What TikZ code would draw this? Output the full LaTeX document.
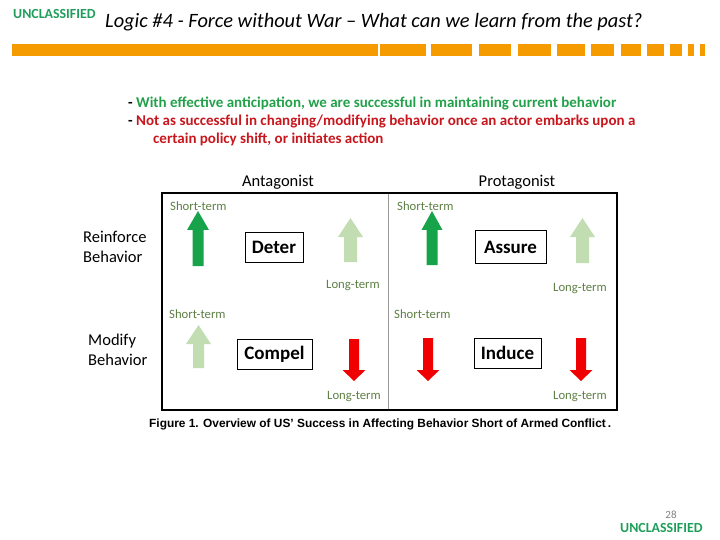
\documentclass[tikz,border=0pt]{standalone}
\usepackage{fontspec}
\setmainfont{Carlito}
\newfontfamily\arialf{Liberation Sans}
\definecolor{uncl}{HTML}{1E9E5A}
\definecolor{bargold}{HTML}{F59B00}
\definecolor{bulgreen}{HTML}{22A04A}
\definecolor{bulred}{HTML}{C8161D}
\definecolor{termc}{HTML}{5E7F45}
\definecolor{darkg}{HTML}{17A34A}
\definecolor{lightg}{HTML}{C3DDB3}
\definecolor{arrred}{HTML}{F00000}
\newcommand\myup[7]{\fill[#1] (#2,#3) -- ({#2+#6},#4) -- ({#2+#5},#4) -- ({#2+#5},#7) -- ({#2-#5},#7) -- ({#2-#5},#4) -- ({#2-#6},#4) -- cycle;}
\newcommand\fs[1]{\fontsize{#1}{#1}\selectfont}
\begin{document}
\begin{tikzpicture}[x=1pt,y=-1pt,
  txt/.style={inner sep=0pt, anchor=base west},
  term/.style={inner sep=0pt, anchor=west, text=termc, font=\fs{12.7}},
  word/.style={draw=black, line width=1pt, inner sep=0pt, minimum height=30pt, font=\fs{19}\bfseries},
  hdr/.style={inner sep=0pt, anchor=base, font=\fs{16.5}},
  side/.style={inner sep=0pt, anchor=base west, font=\fs{16.5}}]
\useasboundingbox (0,0) rectangle (720,540);
% header
\node[txt, text=uncl, font=\fs{13.9}\bfseries] (unc1) at (13,19) {UNCLASSIFIED};
\node[txt, font=\fs{20.4}\itshape] (title) at (105,28) {Logic \#4 - Force without War – What can we learn from the past?};
\foreach \a/\b in {12/378,380/426,431/472,479/511,518/551,557/585,591/614,621/641,647/664,670/682,688/694,700/705}
  \fill[bargold] (\a,44) rectangle (\b,56);
% bullets
\node[txt, font=\fs{15}\bfseries] (b1) at (128,108) {- \textcolor{bulgreen}{With effective anticipation, we are successful in maintaining current behavior}};
\node[txt, font=\fs{15}\bfseries] (b2) at (128,126) {- \textcolor{bulred}{Not as successful in changing/modifying behavior once an actor embarks upon a}};
\node[txt, font=\fs{15}\bfseries, text=bulred] (b3) at (153,144) {certain policy shift, or initiates action};
% figure
\node[hdr] (ant) at (278,187) {Antagonist};
\node[hdr] (pro) at (517,187) {Protagonist};
\node[side] (r1) at (83,242) {Reinforce};
\node[side] (r2) at (83,262) {Behavior};
\node[side] (m1) at (88,345) {Modify};
\node[side] (m2) at (88,365) {Behavior};
\draw[gray!80, line width=0.8pt] (388,193) -- (388,410);
\draw[black, line width=2.5pt] (162,193) rectangle (617,410);
\node[term] (st1) at (170,206) {Short-term};
\node[term] (st2) at (397,206) {Short-term};
\node[term] (lt1) at (326,286) {Long-term};
\node[term] (lt2) at (553,289) {Long-term};
\node[term] (st3) at (169,314) {Short-term};
\node[term] (st4) at (394,314) {Short-term};
\node[term] (lt3) at (327,397) {Long-term};
\node[term] (lt4) at (553,397) {Long-term};
\node[word, minimum width=58pt] (deter) at (274,247) {Deter};
\node[word, minimum width=71pt, minimum height=32pt] (assure) at (510.5,247) {Assure};
\node[word, minimum width=75pt] (compel) at (274.5,354) {Compel};
\node[word, minimum width=67pt] (induce) at (507.5,353) {Induce};
% arrows
\myup{darkg}{198}{211}{230}{5.5}{11}{266}
\myup{lightg}{350.5}{218}{237}{6.5}{12.5}{262}
\myup{darkg}{432}{211}{230}{5.5}{10.5}{265}
\myup{lightg}{582.5}{218}{237}{6.5}{12.5}{263}
\myup{lightg}{198.5}{325}{344}{5.5}{12.5}{368}
\myup{arrred}{354}{381}{370}{5}{11.5}{339}
\myup{arrred}{428}{381}{370}{5}{11.5}{338}
\myup{arrred}{581}{381}{370}{5}{11.5}{338}
% caption
\node[txt, font=\arialf\fs{11.9}\bfseries] (cap) at (149,427) {Figure 1. Overview of US’ Success in Affecting Behavior Short of Armed Conflict\,.};
% footer
\node[inner sep=0pt, anchor=base, text=gray, font=\fs{11}] (pg) at (671,518) {28};
\node[txt, text=uncl, font=\fs{13.9}\bfseries] (unc2) at (620,532) {UNCLASSIFIED};
\end{tikzpicture}
\end{document}
